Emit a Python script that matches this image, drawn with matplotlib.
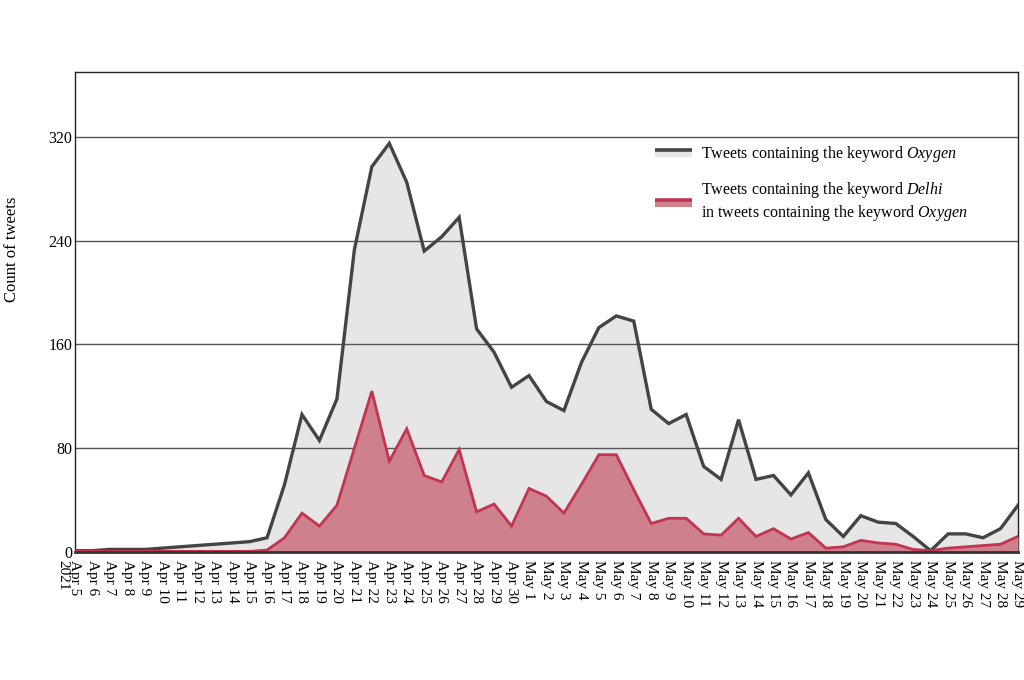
import matplotlib
matplotlib.use("Agg")
import matplotlib.pyplot as plt
import pandas as pd
from matplotlib.legend_handler import HandlerBase
from matplotlib.patches import Rectangle
from matplotlib.lines import Line2D

plt.rcParams['font.family'] = ['Liberation Serif', 'DejaVu Serif']
plt.rcParams['mathtext.fontset'] = 'custom'
plt.rcParams['mathtext.rm'] = 'Liberation Serif'
plt.rcParams['mathtext.it'] = 'Liberation Serif:italic'

# ---------------- data ----------------
dates = pd.date_range('2021-04-05', '2021-05-29', freq='D')
tick_labels = [d.strftime('%b ') + str(d.day) for d in dates]
year_label = '2021'

oxygen = [1, 1, 2, 2, 2, 3, 4, 5, 6, 7, 8, 11,
          52, 106, 86, 118, 233, 297, 315, 285, 232, 243, 258, 172, 154, 127,
          136, 116, 109, 146, 173, 182, 178, 110, 99, 106, 66, 56, 102, 56, 59, 44, 61,
          25, 12, 28, 23, 22, 12, 1, 14, 14, 11, 18, 36]
delhi = [0.5, 0.5, 0.5, 0.5, 0.5, 0.5, 0.5, 0.5, 0.5, 0.5, 0.5, 1.5,
         11, 30, 20, 36, 80, 124, 70, 95, 59, 54, 79, 31, 37, 20,
         49, 43, 30, 52, 75, 75, 48, 22, 26, 26, 14, 13, 26, 12, 18, 10, 15,
         3, 4, 9, 7, 6, 2, 1, 3, 4, 5, 6, 12]
yticks = [0, 80, 160, 240, 320]
label_oxygen = 'Tweets containing the keyword $\\mathit{Oxygen}$'
label_delhi = ('Tweets containing the keyword $\\mathit{Delhi}$\n'
               'in tweets containing the keyword $\\mathit{Oxygen}$')

# ---------------- style ----------------
gray_fill = '#e6e6e6'
gray_line = '#444444'
red_fill = '#cf808d'
red_line = '#c2344f'


class LegendKey:
    def __init__(self, fc, lc):
        self.fc = fc
        self.lc = lc


class KeyHandler(HandlerBase):
    def create_artists(self, legend, orig_handle, xdescent, ydescent,
                       width, height, fontsize, trans):
        x0 = -xdescent
        y0 = -ydescent
        rect = Rectangle((x0, y0 + height * 0.05), width, height * 0.65,
                         facecolor=orig_handle.fc, edgecolor='none', transform=trans)
        line = Line2D([x0, x0 + width], [y0 + height * 0.68] * 2,
                      color=orig_handle.lc, lw=2.6, solid_capstyle='butt', transform=trans)
        return [rect, line]


fig = plt.figure(figsize=(10.24, 6.8), dpi=100)
ax = fig.add_axes([0.0732, 0.1882, 0.9209, 0.7059])

ax.fill_between(dates, oxygen, 0, color=gray_fill, lw=0, zorder=1)
ax.fill_between(dates, delhi, 0, color=red_fill, lw=0, zorder=3)
for y in yticks[1:]:
    ax.axhline(y, color='#555555', lw=1.0, zorder=2)
ax.plot(dates, oxygen, color=gray_line, lw=2.4, zorder=4, solid_joinstyle='miter')
ax.plot(dates, delhi, color=red_line, lw=2.0, zorder=5, solid_joinstyle='miter')

ax.set_xlim(dates[0], dates[-1])
ax.set_ylim(0, 370)
ax.set_yticks(yticks)
ax.set_yticklabels([str(v) for v in yticks], fontsize=11.5)
ax.set_xticks(dates)
ax.set_xticklabels(tick_labels, rotation=-90, fontsize=11, va='top', ha='center')
ax.tick_params(axis='y', length=0, pad=2)
ax.tick_params(axis='x', length=0, pad=6)
ax.annotate(year_label, xy=(dates[0], 0), xycoords=('data', 'axes fraction'),
            xytext=(-12, -8), textcoords='offset pixels',
            rotation=-90, fontsize=11, ha='center', va='top')

for s in ['left', 'right', 'top']:
    ax.spines[s].set_color('#222222')
    ax.spines[s].set_linewidth(1.0)
ax.spines['bottom'].set_color('#333333')
ax.spines['bottom'].set_linewidth(2.0)
ax.spines['bottom'].set_zorder(6)

ax.set_ylabel('Count of tweets', fontsize=12)
ax.yaxis.set_label_coords(-0.058, 0.63)

handles = [LegendKey(gray_fill, gray_line), LegendKey(red_fill, red_line)]
ax.legend(handles, [label_oxygen, label_delhi],
          handler_map={LegendKey: KeyHandler()},
          loc='upper left', bbox_to_anchor=(0.6, 0.88), frameon=False,
          fontsize=11.5, handlelength=2.3, handletextpad=0.6, labelspacing=1.0)

fig.savefig('out.png', dpi=100)
